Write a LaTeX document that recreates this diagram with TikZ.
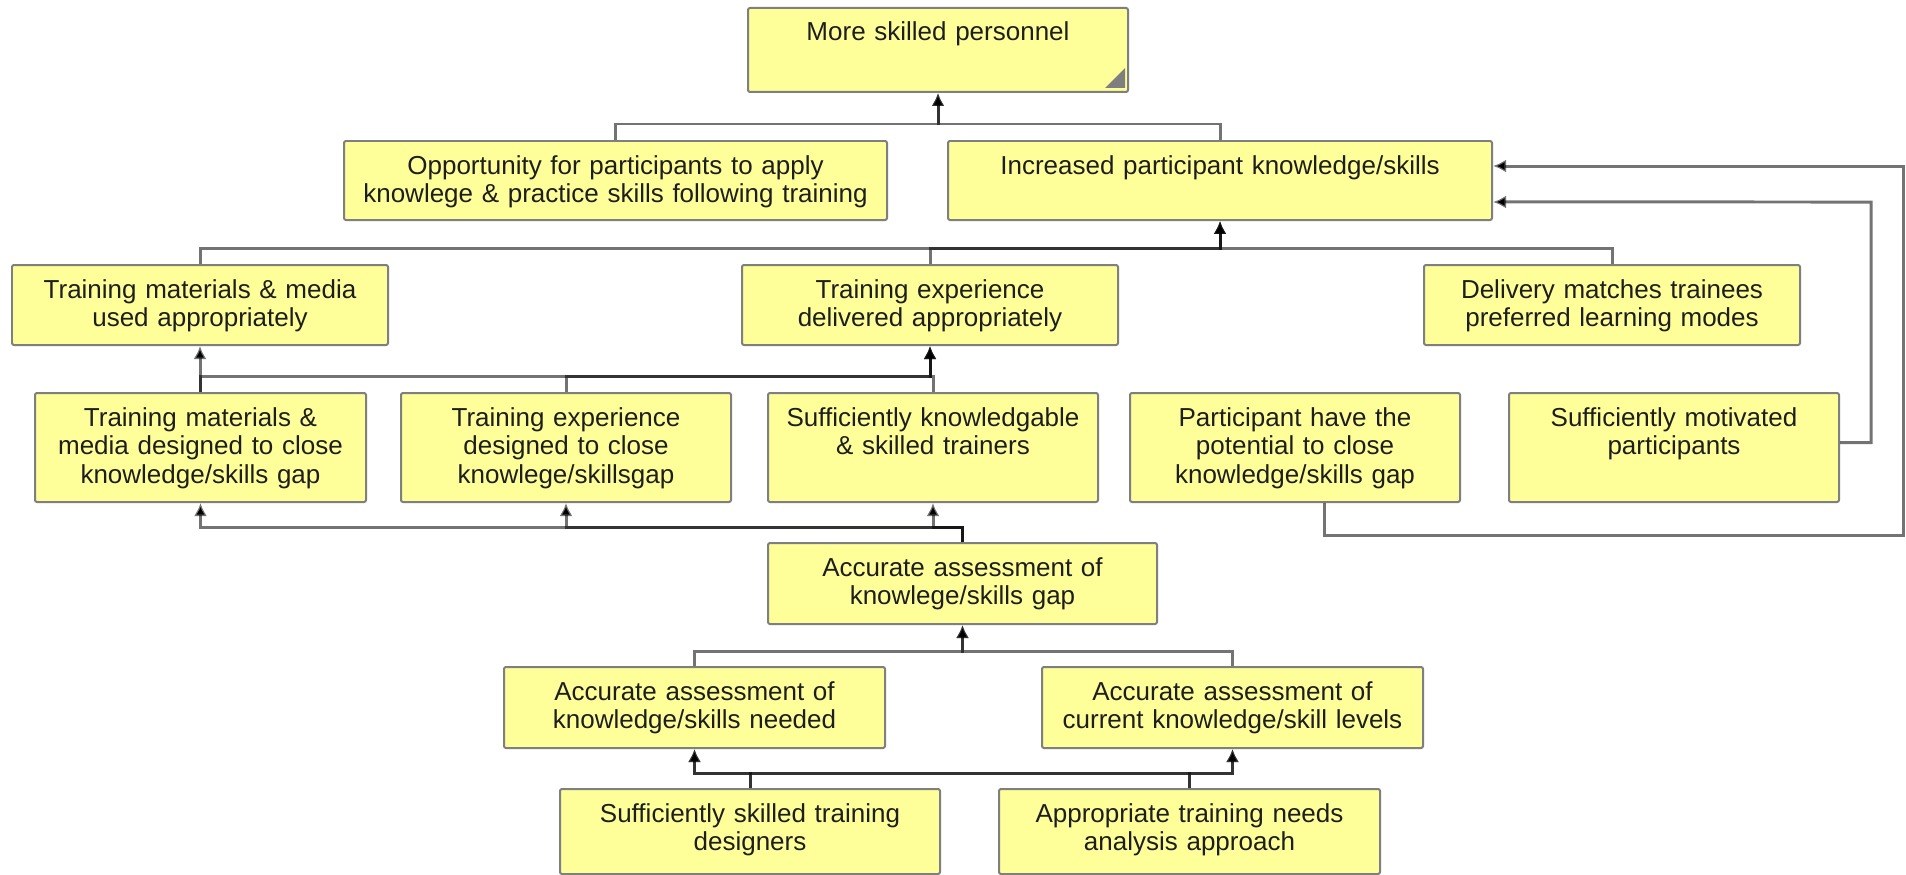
\documentclass[tikz,border=0pt]{standalone}
\usepackage{fontspec}
\setmainfont{Liberation Sans}
\usetikzlibrary{calc,arrows.meta}
\definecolor{boxfill}{HTML}{FFFF99}
\definecolor{boxline}{HTML}{7F7F7F}
\definecolor{txtcol}{HTML}{1E1E1E}
\tikzset{
  box/.style={draw=boxline, line width=0.04cm, fill=boxfill, rounded corners=0.04cm, inner sep=0pt},
  txt/.style={font=\fontsize{14.8pt}{16.5pt}\selectfont, text=txtcol, align=center, inner sep=0pt, text width=12cm},
  conn/.style={draw=black, draw opacity=0.55, fill opacity=1, line width=0.06cm,
    -{Latex[length=0.26cm,width=0.26cm]}},
}
\newcommand\bx[6]{%
  \node[box, minimum width={(#4-#2)*0.02cm}, minimum height={(#5-#3)*0.02cm}] (#1) at ({(#2+#4)/2},{(#3+#5)/2}) {};
  \node[txt, anchor=base] (#1-t) at ($(#1.north)+(0,34)$) {#6};}
\newcommand\lnk[3]{\draw[conn] (#1.north) -- (#1.north |- #3) -| (#2.south);}
\begin{document}
\begin{tikzpicture}[x=0.02cm,y=-0.02cm]
\useasboundingbox[fill=white] (0,0) rectangle (1906,875);
% boxes
\bx{top}{748}{8}{1128}{92}{More skilled personnel}
\fill[boxline] (1105,88) -- (1125,88) -- (1125,68) -- cycle;
\bx{opp}{344}{141}{887}{220}{Opportunity for participants to apply\\knowlege \& practice skills following training}
\bx{inc}{948}{141}{1492}{220}{Increased participant knowledge/skills}
\bx{tmu}{12}{265}{388}{345}{Training materials \& media\\used appropriately}
\bx{ted}{742}{265}{1118}{345}{Training experience\\delivered appropriately}
\bx{dlv}{1424}{265}{1800}{345}{Delivery matches trainees\\preferred learning modes}
\bx{tmd}{35}{393}{366}{502}{Training materials \&\\media designed to close\\knowledge/skills gap}
\bx{tes}{401}{393}{731}{502}{Training experience\\designed to close\\knowlege/skillsgap}
\bx{skt}{768}{393}{1098}{502}{Sufficiently knowledgable\\\& skilled trainers}
\bx{pot}{1130}{393}{1460}{502}{Participant have the\\potential to close\\knowledge/skills gap}
\bx{mot}{1509}{393}{1839}{502}{Sufficiently motivated\\participants}
\bx{gap}{768}{543}{1157}{624}{Accurate assessment of\\knowlege/skills gap}
\bx{need}{504}{667}{885}{748}{Accurate assessment of\\knowledge/skills needed}
\bx{cur}{1042}{667}{1423}{748}{Accurate assessment of\\current knowledge/skill levels}
\bx{ssd}{560}{789}{940}{874}{Sufficiently skilled training\\designers}
\bx{app}{999}{789}{1380}{874}{Appropriate training needs\\analysis approach}
% bus levels
\coordinate (y1) at (0,124);
\coordinate (y2) at (0,248);
\coordinate (y3) at (0,376);
\coordinate (y4) at (0,527);
\coordinate (y5) at (0,651);
\coordinate (y6) at (0,773);
\coordinate (c1) at (1903,535);
\coordinate (c2) at (1871,202);
% connectors
\lnk{opp}{top}{y1}
\lnk{inc}{top}{y1}
\lnk{tmu}{inc}{y2}
\lnk{ted}{inc}{y2}
\lnk{dlv}{inc}{y2}
\lnk{tmd}{tmu}{y3}
\lnk{tmd}{ted}{y3}
\lnk{tes}{ted}{y3}
\lnk{skt}{ted}{y3}
\lnk{gap}{tmd}{y4}
\lnk{gap}{tes}{y4}
\lnk{gap}{skt}{y4}
\lnk{need}{gap}{y5}
\lnk{cur}{gap}{y5}
\lnk{ssd}{need}{y6}
\lnk{ssd}{cur}{y6}
\lnk{app}{need}{y6}
\lnk{app}{cur}{y6}
\draw[conn] ([xshift=0.58cm]pot.south) |- (c1) |- ([yshift=0.29cm]inc.east);
\draw[conn] ([yshift=0.1cm]mot.east) -| (c2) -- ([yshift=-0.43cm]inc.east);
\end{tikzpicture}
\end{document}
